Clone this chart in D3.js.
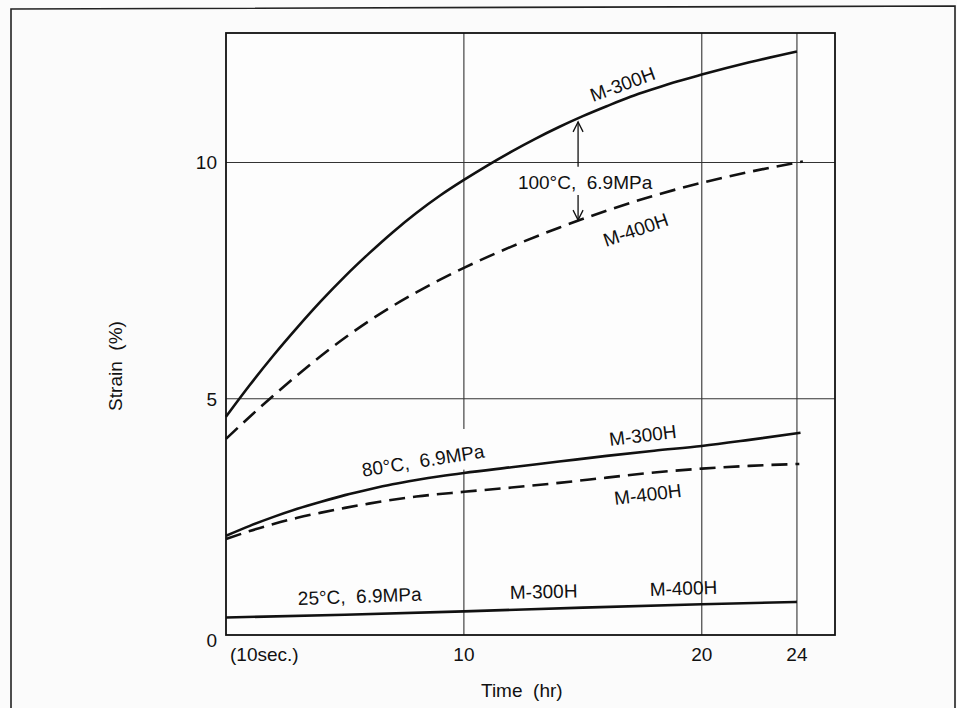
<!DOCTYPE html>
<html>
<head>
<meta charset="utf-8">
<script src="https://cdn.jsdelivr.net/npm/d3@7"></script>
<style>
  body { margin: 0; background: #fbfbfb; }
  text { font-family: "Liberation Sans", Arial, sans-serif; fill: #111; }
</style>
</head>
<body>
<div id="chart"></div>
<script>
// creep strain vs time (t in hr, strain in %)
var m300_100 = [[0,4.62],[1,5.29],[2,5.92],[3,6.51],[4,7.07],[5,7.59],[6,8.07],[7,8.52],[8,8.93],[9,9.3],[10,9.63],[11,9.94],[12,10.23],[13,10.5],[14,10.75],[15,10.98],[16,11.19],[17,11.39],[18,11.56],[19,11.72],[20,11.86],[22,12.12],[24,12.35]];
var m400_100 = [[0,4.15],[1,4.62],[2,5.07],[3,5.5],[4,5.91],[5,6.29],[6,6.64],[7,6.96],[8,7.25],[9,7.52],[10,7.77],[12,8.22],[14,8.62],[16,8.98],[18,9.3],[20,9.57],[22,9.8],[24.25,10.02]];
var m300_80 = [[0,2.1],[1,2.31],[2,2.5],[3,2.67],[4,2.82],[5,2.96],[6,3.08],[7,3.19],[8,3.28],[9,3.36],[10,3.43],[12,3.55],[14,3.67],[16,3.79],[18,3.9],[20,4.0],[22,4.13],[24.15,4.28]];
var m400_80 = [[0,2.03],[1,2.2],[2,2.35],[3,2.48],[4,2.59],[5,2.69],[6,2.78],[8,2.93],[10,3.03],[12,3.12],[14,3.22],[16,3.33],[18,3.44],[20,3.52],[22,3.58],[24.1,3.62]];
var both_25 = [[0,0.37],[5,0.43],[10,0.5],[15,0.58],[20,0.65],[24,0.7]];

var xTicks = [0, 10, 20, 24];
var xTickLabels = ["(10sec.)", "10", "20", "24"];
var yTicks = [0, 5, 10];

var width = 957,
    height = 708;

var x = d3.scaleLinear().domain([0, 25.6]).range([226, 835]);
var y = d3.scaleLinear().domain([0, 12.74]).range([635, 33]);

var svg = d3.select("#chart").append("svg")
    .attr("width", width)
    .attr("height", height);

// outer frame (bottom runs off the page)
svg.append("path")
    .attr("d", "M11,712 L11,9 L955,6 L955,712")
    .attr("fill", "none")
    .attr("stroke", "#222")
    .attr("stroke-width", 1.6);

svg.append("rect")
    .attr("x", x(0)).attr("y", y(12.74))
    .attr("width", x(25.6) - x(0))
    .attr("height", y(0) - y(12.74))
    .attr("fill", "#fdfdfd");

// grid
svg.selectAll(".vgrid")
    .data(xTicks.slice(1))
    .enter().append("line")
    .attr("x1", function (d) { return x(d); })
    .attr("x2", function (d) { return x(d); })
    .attr("y1", y(12.74)).attr("y2", y(0))
    .attr("stroke", "#333").attr("stroke-width", 1.1);

svg.selectAll(".hgrid")
    .data(yTicks.slice(1))
    .enter().append("line")
    .attr("x1", x(0)).attr("x2", x(25.6))
    .attr("y1", function (d) { return y(d); })
    .attr("y2", function (d) { return y(d); })
    .attr("stroke", "#333").attr("stroke-width", 1.1);

// the 80C label sits on a gap in the 10 hr gridline
svg.append("rect")
    .attr("x", x(9.6)).attr("y", y(4.36))
    .attr("width", x(10.4) - x(9.6))
    .attr("height", y(3.5) - y(4.36))
    .attr("fill", "#fdfdfd");

svg.append("rect")
    .attr("x", x(0)).attr("y", y(12.74))
    .attr("width", x(25.6) - x(0))
    .attr("height", y(0) - y(12.74))
    .attr("fill", "none")
    .attr("stroke", "#111")
    .attr("stroke-width", 1.8);

// tick labels
svg.selectAll(".ylab")
    .data(yTicks)
    .enter().append("text")
    .attr("x", 217)
    .attr("y", function (d) { return y(d) + (d === 0 ? 12 : 7); })
    .attr("text-anchor", "end")
    .style("font-size", "19px")
    .text(function (d) { return d; });

svg.selectAll(".xlab")
    .data(xTicks)
    .enter().append("text")
    .attr("x", function (d, i) { return i === 0 ? x(d) + 4 : x(d); })
    .attr("y", 661)
    .attr("text-anchor", function (d, i) { return i === 0 ? "start" : "middle"; })
    .style("font-size", "19px")
    .text(function (d, i) { return xTickLabels[i]; });

svg.append("text")
    .attr("x", 481).attr("y", 697)
    .style("font-size", "19px")
    .text("Time\u00a0\u00a0(hr)");

svg.append("text")
    .attr("transform", "translate(122,366) rotate(-90)")
    .attr("text-anchor", "middle")
    .style("font-size", "19px")
    .text("Strain\u00a0\u00a0(%)");

// curves
var line = d3.line()
    .x(function (d) { return x(d[0]); })
    .y(function (d) { return y(d[1]); })
    .curve(d3.curveMonotoneX);

var series = [
    { data: m300_100, dash: null },
    { data: m400_100, dash: "16,8" },
    { data: m300_80, dash: null },
    { data: m400_80, dash: "16,8" },
    { data: both_25, dash: null }
];

svg.selectAll(".curve")
    .data(series)
    .enter().append("path")
    .attr("d", function (d) { return line(d.data); })
    .attr("fill", "none")
    .attr("stroke", "#111")
    .attr("stroke-width", 2.6)
    .attr("stroke-dasharray", function (d) { return d.dash; });

// arrows between the 100C curves
var ax = x(14.8);
function arrow(from, to) {
    var dir = to < from ? 1 : -1;
    svg.append("line")
        .attr("x1", ax).attr("x2", ax)
        .attr("y1", from).attr("y2", to)
        .attr("stroke", "#111").attr("stroke-width", 1.3);
    svg.append("path")
        .attr("d", "M" + (ax - 5) + "," + (to + dir * 10) + " L" + ax + "," + to + " L" + (ax + 5) + "," + (to + dir * 10))
        .attr("fill", "none")
        .attr("stroke", "#111").attr("stroke-width", 1.3);
}
arrow(y(9.91), y(10.86));
arrow(y(9.31), y(8.78));

// labels, anchored in data units
var notes = [
    { text: "M-300H", t: 15.43, s: 11.28, a: -20 },
    { text: "100\u00b0C,\u00a0\u00a06.9MPa", t: 12.27, s: 9.44, a: 0 },
    { text: "M-400H", t: 15.97, s: 8.21, a: -19 },
    { text: "80\u00b0C,\u00a0\u00a06.9MPa", t: 5.76, s: 3.35, a: -9 },
    { text: "M-300H", t: 16.14, s: 4.0, a: -7 },
    { text: "M-400H", t: 16.35, s: 2.75, a: -7 },
    { text: "25\u00b0C,\u00a0\u00a06.9MPa", t: 3.03, s: 0.635, a: -2 },
    { text: "M-300H", t: 11.94, s: 0.76, a: -1.5 },
    { text: "M-400H", t: 17.82, s: 0.825, a: -2 }
];

svg.selectAll(".note")
    .data(notes)
    .enter().append("text")
    .attr("transform", function (d) {
        return "translate(" + x(d.t) + "," + y(d.s) + ") rotate(" + d.a + ")";
    })
    .style("font-size", "19px")
    .text(function (d) { return d.text; });
</script>
</body>
</html>
